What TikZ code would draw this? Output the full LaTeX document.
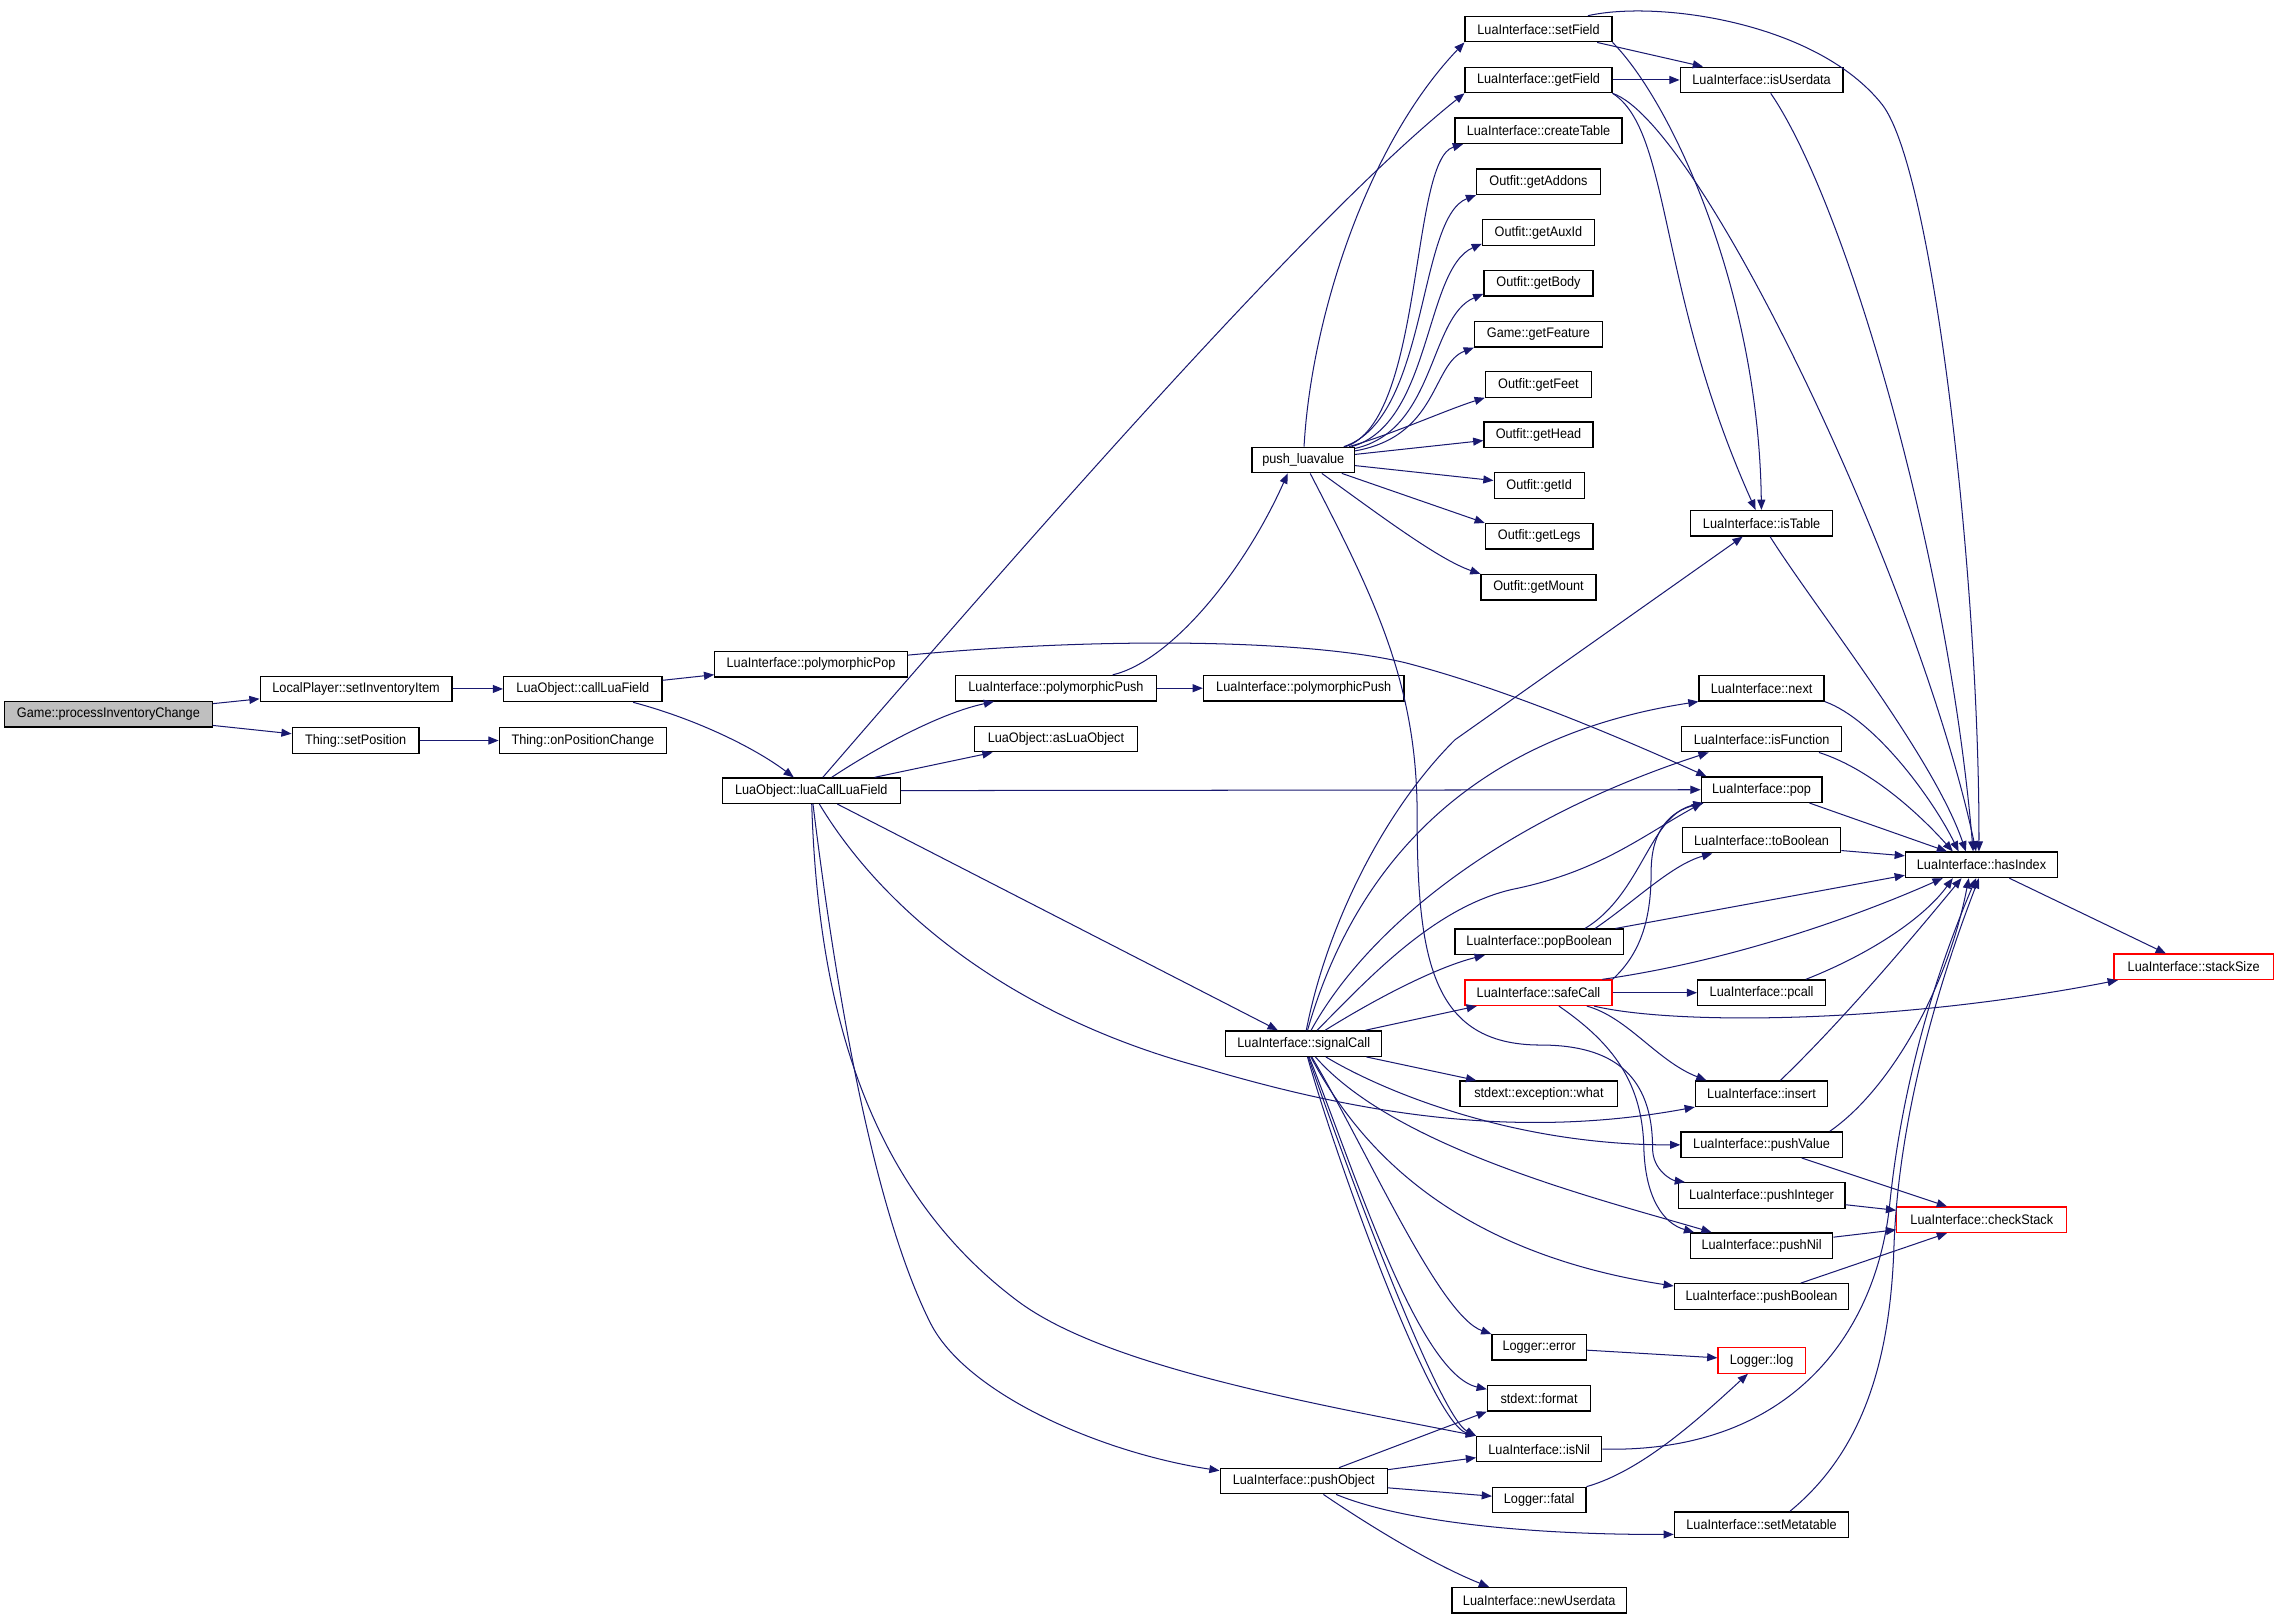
\documentclass[tikz,border=0pt]{standalone}
\usepackage{fontspec}
\usepackage{tikz}
\usetikzlibrary{arrows.meta,calc}
\newfontfamily\nodefont{Liberation Sans}[FakeStretch=0.92]
\definecolor{edgeblue}{RGB}{25,25,112}
\tikzset{
    fn/.style={
        rectangle,
        draw=black,
        line width=0.9pt,
        fill=white,
        inner sep=0pt,
        minimum height=17.5,
        font=\nodefont\fontsize{9.5}{11}\selectfont
    },
    fnred/.style={fn, draw=red},
    fnroot/.style={fn, fill=gray!50},
    arrow/.style={
        -{Triangle[length=7pt,width=5.5pt]},
        edgeblue,
        line width=0.7pt
    }
}

\begin{document}
\begin{tikzpicture}[x=1pt, y=-1pt]
        \useasboundingbox[fill=white] (0,0) rectangle (1568,1114);
        % Nodes
        \node (game) [fnroot, minimum width=143] at (74.6,491.5) {Game::processInventoryChange};
        \node (lpsii) [fn, minimum width=132] at (245,474) {LocalPlayer::setInventoryItem};
        \node (tsp) [fn, minimum width=87.3] at (244.7,509.5) {Thing::setPosition};
        \node (clf) [fn, minimum width=109] at (401,474) {LuaObject::callLuaField};
        \node (opc) [fn, minimum width=115] at (401,509.5) {Thing::onPositionChange};
        \node (ppop) [fn, minimum width=132.4] at (558,457) {LuaInterface::polymorphicPop};
        \node (lclf) [fn, minimum width=122.5] at (558.2,544) {LuaObject::luaCallLuaField};
        \node (ppush) [fn, minimum width=138] at (726.5,473.5) {LuaInterface::polymorphicPush};
        \node (aslo) [fn, minimum width=112] at (726.5,508.5) {LuaObject::asLuaObject};
        \node (plv) [fn, minimum width=70.5] at (896.7,316.5) {push\_luavalue};
        \node (sig) [fn, minimum width=107.3] at (897,718) {LuaInterface::signalCall};
        \node (pobj) [fn, minimum width=115] at (897,1019) {LuaInterface::pushObject};
        \node (ppush2) [fn, minimum width=138] at (897,473.5) {LuaInterface::polymorphicPush};

        \node (setf) [fn, minimum width=101] at (1058.5,20) {LuaInterface::setField};
        \node (getf) [fn, minimum width=101] at (1058.5,55) {LuaInterface::getField};
        \node (ctab) [fn, minimum width=115] at (1058.5,90) {LuaInterface::createTable};
        \node (addons) [fn, minimum width=85] at (1058.5,125) {Outfit::getAddons};
        \node (auxid) [fn, minimum width=77] at (1058.5,160) {Outfit::getAuxId};
        \node (body) [fn, minimum width=75] at (1058.5,195) {Outfit::getBody};
        \node (feature) [fn, minimum width=88] at (1058.5,230) {Game::getFeature};
        \node (feet) [fn, minimum width=73] at (1058.5,264.5) {Outfit::getFeet};
        \node (head) [fn, minimum width=75] at (1058.5,299) {Outfit::getHead};
        \node (outid) [fn, minimum width=62] at (1059,334) {Outfit::getId};
        \node (legs) [fn, minimum width=74] at (1059,369) {Outfit::getLegs};
        \node (mount) [fn, minimum width=79] at (1058.5,404) {Outfit::getMount};
        \node (popb) [fn, minimum width=116] at (1059,648) {LuaInterface::popBoolean};
        \node (safec) [fnred, minimum width=101] at (1058.5,683) {LuaInterface::safeCall};
        \node (what) [fn, minimum width=108.4] at (1058.8,752.5) {stdext::exception::what};
        \node (lerr) [fn, minimum width=65] at (1059,927) {Logger::error};
        \node (fmt) [fn, minimum width=71] at (1058.9,962) {stdext::format};
        \node (isnil) [fn, minimum width=86] at (1059,997) {LuaInterface::isNil};
        \node (lfatal) [fn, minimum width=64.2] at (1059,1032) {Logger::fatal};
        \node (newud) [fn, minimum width=120.2] at (1059,1101) {LuaInterface::newUserdata};

        \node (isud) [fn, minimum width=112] at (1212,55) {LuaInterface::isUserdata};
        \node (istab) [fn, minimum width=97.4] at (1212,360) {LuaInterface::isTable};
        \node (next) [fn, minimum width=86] at (1212,473.5) {LuaInterface::next};
        \node (isfn) [fn, minimum width=110] at (1212,508.5) {LuaInterface::isFunction};
        \node (pop) [fn, minimum width=83] at (1212,543.3) {LuaInterface::pop};
        \node (tobool) [fn, minimum width=109] at (1212,578) {LuaInterface::toBoolean};
        \node (pcall) [fn, minimum width=88] at (1212,683) {LuaInterface::pcall};
        \node (insert) [fn, minimum width=91] at (1212,752.5) {LuaInterface::insert};
        \node (pushv) [fn, minimum width=111] at (1212,787.5) {LuaInterface::pushValue};
        \node (pushi) [fn, minimum width=114.6] at (1212,822.5) {LuaInterface::pushInteger};
        \node (pushnil) [fn, minimum width=98] at (1212,857) {LuaInterface::pushNil};
        \node (pushb) [fn, minimum width=120] at (1212,892) {LuaInterface::pushBoolean};
        \node (llog) [fnred, minimum width=60] at (1212,936) {Logger::log};
        \node (setmt) [fn, minimum width=120] at (1212,1049) {LuaInterface::setMetatable};

        \node (hasidx) [fn, minimum width=104.6] at (1363.3,595) {LuaInterface::hasIndex};
        \node (chkstk) [fnred, minimum width=117] at (1363.5,839.2) {LuaInterface::checkStack};
        \node (stksz) [fnred, minimum width=109.5] at (1509.3,665.2) {LuaInterface::stackSize};

        % Arrows
        \draw[arrow] (game) -- (lpsii);
        \draw[arrow] (game) -- (tsp);
        \draw[arrow] (lpsii) -- (clf);
        \draw[arrow] (tsp) -- (opc);
        \draw[arrow] (clf) -- (ppop);
        \draw[arrow] (clf) .. controls (480,495) and (520,515) .. (lclf);
        \draw[arrow] (ppop) .. controls (760,438) and (900,440) .. (967,456) .. controls (1040,475) and (1120,510) .. ($(pop.north west)+(4,0)$);

        \draw[arrow] (lclf) .. controls (700,380) and (900,150) .. (getf.south west);
        \draw[arrow] (lclf) .. controls (610,510) and (650,490) .. (ppush);
        \draw[arrow] (lclf) -- (aslo);
        \draw[arrow] (lclf) -- (pop);
        \draw[arrow] (lclf) -- (sig);
        \draw[arrow] (lclf) .. controls (610,630) and (700,700) .. (826,734) .. controls (930,765) and (1040,785) .. (insert.south west);
        \draw[arrow] (lclf) .. controls (563,700) and (600,820) .. (700,895) .. controls (760,940) and (900,965) .. (isnil.north west);
        \draw[arrow] (lclf) .. controls (575,680) and (600,830) .. (640,910) .. controls (665,960) and (760,1000) .. ($(pobj.north west)+(0,2)$);

        \draw[arrow] (ppush) -- (ppush2);
        \draw[arrow] (ppush) .. controls (805,455) and (855,395) .. ($(plv.south west)+(25,0)$);

        \draw[arrow] (plv) .. controls (902,220) and (940,100) .. (setf.south west);
        \draw[arrow] (plv) .. controls (980,290) and (970,110) .. ($(ctab.south west)+(6,0)$);
        \draw[arrow] (plv) .. controls (983,288) and (975,150) .. (addons.south west);
        \draw[arrow] (plv) .. controls (985,292) and (980,185) .. ($(auxid.south west)+(0,-1.5)$);
        \draw[arrow] (plv) .. controls (988,296) and (983,218) .. ($(body.south west)+(0,-2)$);
        \draw[arrow] (plv) .. controls (990,300) and (985,250) .. (feature.south west);
        \draw[arrow] (plv) .. controls (960,298) and (995,282) .. (feet.south west);
        \draw[arrow] (plv) -- (head);
        \draw[arrow] (plv) -- (outid);
        \draw[arrow] (plv) -- (legs.north west);
        \draw[arrow] (plv) .. controls (950,355) and (990,385) .. (mount.north west);
        \draw[arrow] (plv) .. controls (945,410) and (975,470) .. (975,560) .. controls (975,660) and (985,719) .. (1060,719) .. controls (1110,719) and (1137,740) .. (1137,790) .. controls (1137,805) and (1150,812) .. ($(pushi.north west)+(5,0)$);

        \draw[arrow] (setf) -- (isud);
        \draw[arrow] (setf.south east) .. controls (1150,70) and (1210,200) .. (istab);
        \draw[arrow] ($(setf.north west)+(85,0)$) .. controls (1140,0) and (1250,15) .. (1295,72) .. controls (1330,117) and (1362,400) .. ($(hasidx.north west)+(51,0)$);
        \draw[arrow] (getf) -- (isud);
        \draw[arrow] (getf.south east) .. controls (1150,90) and (1140,200) .. (istab);
        \draw[arrow] (getf.south east) .. controls (1170,85) and (1320,400) .. ($(hasidx.north west)+(49,0)$);
        \draw[arrow] (isud) .. controls (1270,140) and (1340,380) .. ($(hasidx.north west)+(47,0)$);
        \draw[arrow] (istab) .. controls (1250,420) and (1330,520) .. ($(hasidx.north west)+(42,0)$);
        \draw[arrow] (next.south east) .. controls (1290,495) and (1330,550) .. ($(hasidx.north west)+(37,0)$);
        \draw[arrow] ($(isfn.south east)+(-16,0)$) .. controls (1290,530) and (1325,565) .. ($(hasidx.north west)+(33,0)$);
        \draw[arrow] ($(pop.south east)+(-9,0)$) -- ($(hasidx.north west)+(29,0)$);
        \draw[arrow] ($(tobool.south east)+(0,-2)$) -- ($(hasidx.north west)+(0,3)$);
        \draw[arrow] ($(popb.north east)+(-6,0)$) -- ($(hasidx.south west)+(0,-2)$);
        \draw[arrow] ($(popb.north east)+(-27,0)$) .. controls (1130,615) and (1135,560) .. ($(pop.south west)+(2,0)$);
        \draw[arrow] ($(popb.north east)+(-20,0)$) .. controls (1125,620) and (1150,595) .. ($(tobool.south west)+(21,0)$);

        \draw[arrow] ($(safec.north east)+(-7,0)$) .. controls (1200,660) and (1290,625) .. ($(hasidx.south west)+(26,0)$);
        \draw[arrow] (safec.north east) .. controls (1130,655) and (1136,630) .. (1136,600) .. controls (1136,570) and (1150,558) .. ($(pop.south west)+(2,0)$);
        \draw[arrow] (safec) -- (pcall);
        \draw[arrow] (safec) .. controls (1150,705) and (1300,705) .. ($(stksz.south west)+(3,0)$);
        \draw[arrow] (safec) .. controls (1120,700) and (1140,730) .. ($(insert.north west)+(8,0)$);
        \draw[arrow] ($(safec.south west)+(65,0)$) .. controls (1110,718) and (1130,745) .. (1131,790) .. controls (1132,825) and (1145,842) .. ($(pushnil.north west)+(3,0)$);
        \draw[arrow] ($(pcall.north east)+(-14,0)$) .. controls (1290,655) and (1325,630) .. ($(hasidx.south west)+(33,0)$);
        \draw[arrow] ($(insert.north east)+(-33,0)$) .. controls (1270,700) and (1320,640) .. ($(hasidx.south west)+(39,0)$);
        \draw[arrow] ($(pushv.north east)+(-9,0)$) .. controls (1300,750) and (1340,680) .. ($(hasidx.south west)+(44,0)$);
        \draw[arrow] (isnil.east) .. controls (1230,1000) and (1290,920) .. (1300,830) .. controls (1310,730) and (1340,650) .. ($(hasidx.south west)+(49,0)$);
        \draw[arrow] ($(setmt.north east)+(-41,0)$) .. controls (1280,1000) and (1300,940) .. (1303,860) .. controls (1306,760) and (1340,660) .. ($(hasidx.south west)+(51,0)$);
        \draw[arrow] (hasidx) -- (stksz);

        \draw[arrow] (sig) .. controls (912,640) and (950,560) .. (1001,509) -- (istab);
        \draw[arrow] (sig) .. controls (925,620) and (990,510) .. (next.south west);
        \draw[arrow] (sig) .. controls (940,640) and (1030,565) .. ($(isfn.south west)+(19,0)$);
        \draw[arrow] (sig) .. controls (940,675) and (985,625) .. (1040,612) .. controls (1100,600) and (1130,575) .. ($(pop.south west)+(1,0)$);
        \draw[arrow] (sig) .. controls (950,685) and (990,665) .. ($(popb.south west)+(21,0)$);
        \draw[arrow] (sig) -- (safec);
        \draw[arrow] (sig) -- (what);
        \draw[arrow] (sig) .. controls (950,750) and (1040,788) .. (pushv);
        \draw[arrow] (sig) .. controls (960,790) and (1100,825) .. ($(pushnil.north west)+(15,0)$);
        \draw[arrow] (sig) .. controls (930,780) and (990,860) .. ($(pushb.north west)+(0,2)$);
        \draw[arrow] (sig) .. controls (940,790) and (990,905) .. (lerr.north west);
        \draw[arrow] (sig) .. controls (930,800) and (975,945) .. ($(fmt.north west)+(0,3)$);
        \draw[arrow] (sig) .. controls (925,800) and (990,975) .. (isnil.north west);
        \draw[arrow] (sig) .. controls (920,800) and (985,979) .. (isnil.north west);

        \draw[arrow] (pobj) -- (fmt.south west);
        \draw[arrow] (pobj) -- (isnil);
        \draw[arrow] (pobj) -- (lfatal);
        \draw[arrow] (pobj) .. controls (960,1045) and (1040,1056) .. ($(setmt.south west)+(0,-2.5)$);
        \draw[arrow] (pobj) .. controls (950,1055) and (990,1078) .. ($(newud.north west)+(26,0)$);

        \draw[arrow] (lerr) -- (llog);
        \draw[arrow] (lfatal) .. controls (1130,1012) and (1170,975) .. ($(llog.south west)+(21,0)$);
        \draw[arrow] (pushv) -- ($(chkstk.north west)+(35,0)$);
        \draw[arrow] (pushi) -- (chkstk);
        \draw[arrow] (pushnil) -- (chkstk);
        \draw[arrow] (pushb) -- ($(chkstk.south west)+(35,0)$);
    \end{tikzpicture}
\end{document}
